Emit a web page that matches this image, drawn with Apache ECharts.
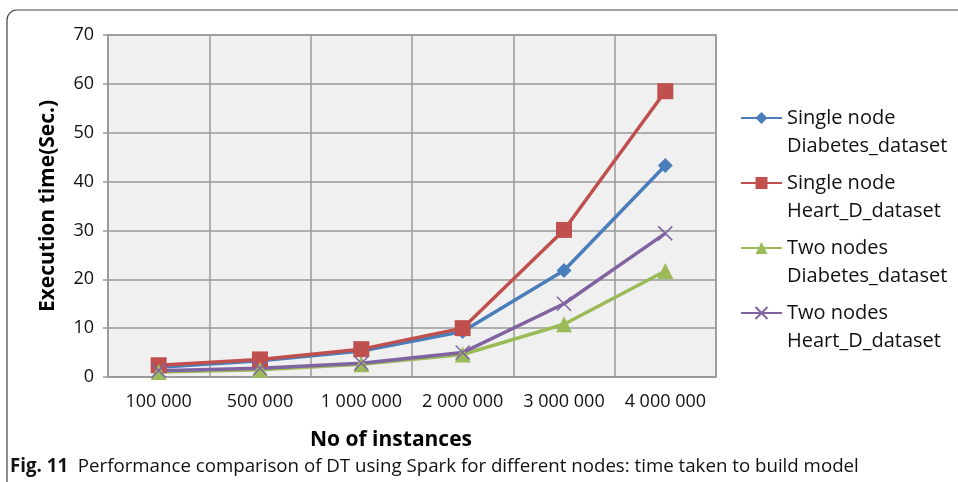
<!DOCTYPE html>
<html><head><meta charset="utf-8">
<script src="https://cdn.jsdelivr.net/npm/echarts@6/dist/echarts.min.js"></script>
<style>html,body{margin:0;padding:0;background:#fff}#c{width:958px;height:482px}</style>
</head><body><div id="c"></div>
<script>
const categories = ['100 000','500 000','1 000 000','2 000 000','3 000 000','4 000 000'];
const singleDiabetes = [2.0, 3.3, 5.3, 9.3, 21.8, 43.3];
const singleHeart = [2.4, 3.6, 5.7, 10.0, 30.1, 58.5];
const twoDiabetes = [1.0, 1.5, 2.6, 4.6, 10.8, 21.7];
const twoHeart = [1.3, 1.8, 2.8, 5.0, 15.0, 29.4];
const seriesNames = ['Single node\nDiabetes_dataset','Single node\nHeart_D_dataset','Two nodes\nDiabetes_dataset','Two nodes\nHeart_D_dataset'];
const yTicks = [0,10,20,30,40,50,60,70];

const chart = echarts.init(document.getElementById('c'));
const font = 'Open Sans';
const gridCol = '#9a9a9a';
function mk(name, data, color, symbol, size, extra){
  return Object.assign({
    name, type:'line', data, symbol, symbolSize:size,
    lineStyle:{color, width:3.5}, itemStyle:{color},
    emphasis:{disabled:true}, z: 3
  }, extra||{});
}
chart.setOption({
  animation:false,
  backgroundColor:'#fff',
  grid:{left:108, right:242, top:35, bottom:105, show:true, backgroundColor:'#f0f0f0', borderColor:gridCol, borderWidth:1.5},
  xAxis:{type:'category', data:categories, boundaryGap:true,
    axisLine:{lineStyle:{color:gridCol, width:1.5}}, axisTick:{show:false},
    splitLine:{show:true, interval:0, lineStyle:{color:gridCol, width:1.5}},
    axisLabel:{color:'#111', fontFamily:font, fontSize:18, margin:16, interval:0},
    name:'No of instances', nameLocation:'middle', nameGap:53,
    nameTextStyle:{color:'#000', fontFamily:font, fontSize:21, fontWeight:'bold', padding:[0,42,0,0]}},
  yAxis:{type:'value', min:0, max:70, interval:10,
    axisLine:{show:true, lineStyle:{color:gridCol, width:1.5}},
    axisTick:{show:true, length:5, lineStyle:{color:gridCol, width:1.5}},
    splitLine:{show:true, lineStyle:{color:gridCol, width:1.5}},
    axisLabel:{color:'#111', fontFamily:font, fontSize:18, margin:14,
      formatter:v=>yTicks.includes(v)?String(v):''},
    name:'Execution time(Sec.)', nameLocation:'middle', nameGap:49,
    nameTextStyle:{color:'#000', fontFamily:font, fontSize:21, fontWeight:'bold'}},
  legend:{orient:'vertical', left:735, top:71, itemWidth:41, itemHeight:15, itemGap:-19,
    data:seriesNames, formatter:n=>' \n'+n,
    textStyle:{fontFamily:font, fontSize:20, color:'#111', lineHeight:28}},
  series:[
    mk(seriesNames[0], singleDiabetes, '#4a7ebb', 'diamond', 15),
    mk(seriesNames[1], singleHeart, '#c0504d', 'rect', 16),
    mk(seriesNames[2], twoDiabetes, '#9bbb59', 'triangle', 16),
    mk(seriesNames[3], twoHeart, '#8064a2', 'path://M0,0L10,10M10,0L0,10', 14,
      {itemStyle:{color:'#8064a2', borderColor:'#8064a2', borderWidth:1.5}})
  ],
  graphic:[
    {type:'rect', shape:{x:7, y:10, width:1000, height:520, r:10}, style:{fill:'none', stroke:'#444', lineWidth:1.2}, z:-1},
    {type:'text', left:10, top:457, style:{text:'{b|Fig. 11}  Performance comparison of DT using Spark for different nodes: time taken to build model',
      rich:{b:{fontWeight:'bold', fontFamily:font, fontSize:18.7, fill:'#111'}},
      fontFamily:font, fontSize:18.7, fill:'#111'}}
  ]
});
</script></body></html>
